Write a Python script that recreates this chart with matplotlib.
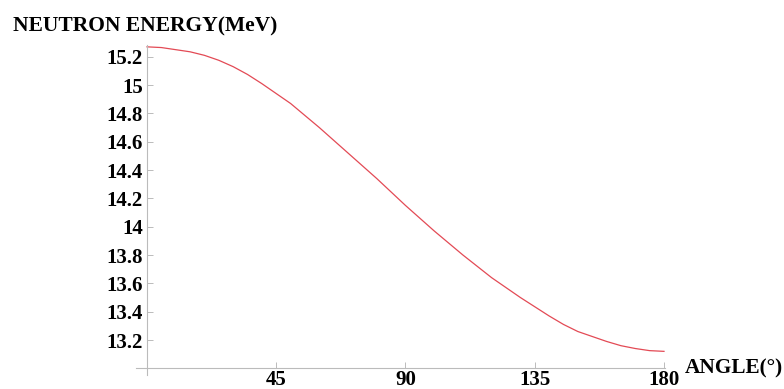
import matplotlib.pyplot as plt

# values
angle = [0, 5, 10, 15, 20, 25, 30, 35, 40, 50, 60, 70, 80, 90,
         100, 110, 120, 130, 140, 145, 150, 155, 160, 165, 170, 175, 180]
energy = [15.27, 15.265, 15.25, 15.235, 15.21, 15.175, 15.13, 15.075, 15.01, 14.87,
          14.70, 14.52, 14.34, 14.15, 13.97, 13.80, 13.64, 13.50, 13.37, 13.31,
          13.26, 13.225, 13.19, 13.16, 13.14, 13.125, 13.12]

xticks = [45, 90, 135, 180]
xlabels = ['45', '90', '135', '180']
yticks = [13.2, 13.4, 13.6, 13.8, 14.0, 14.2, 14.4, 14.6, 14.8, 15.0, 15.2]
ylabels = ['13.2', '13.4', '13.6', '13.8', '14', '14.2', '14.4', '14.6', '14.8', '15', '15.2']

W, H = 784, 389
fig = plt.figure(figsize=(W / 100, H / 100), dpi=100)
ax = fig.add_axes([136 / W, 1 - 375 / H, 529 / W, 330 / H])

ax.plot(angle, energy, color='#e34a55', lw=0.9, clip_on=False)

ax.set_xlim(-3.83, 180.35)
ax.set_ylim(12.953, 15.283)

axis_col = '#bbbbbb'
for s in ['top', 'right']:
    ax.spines[s].set_visible(False)
ax.spines['left'].set_position(('data', 0))
ax.spines['bottom'].set_position(('data', 13.0))
for s in ['left', 'bottom']:
    ax.spines[s].set_color(axis_col)
    ax.spines[s].set_linewidth(0.8)

font = dict(family='Liberation Serif', weight='bold', size=15)
ax.set_xticks(xticks)
ax.set_xticklabels(xlabels, **font)
ax.set_yticks(yticks)
ax.set_yticklabels(ylabels, **font)
ax.tick_params(direction='in', length=4, width=0.7, color=axis_col, pad=3)
ax.tick_params(axis='x', pad=1)

fig.text(13 / W, 1 - 31 / H, 'NEUTRON ENERGY(MeV)', va='baseline', ha='left',
         family='Liberation Serif', weight='bold', size=15.5)
fig.text(685 / W, 1 - 373 / H, 'ANGLE(°)', va='baseline', ha='left',
         family='Liberation Serif', weight='bold', size=15.3)

fig.savefig('out.png', dpi=100)
